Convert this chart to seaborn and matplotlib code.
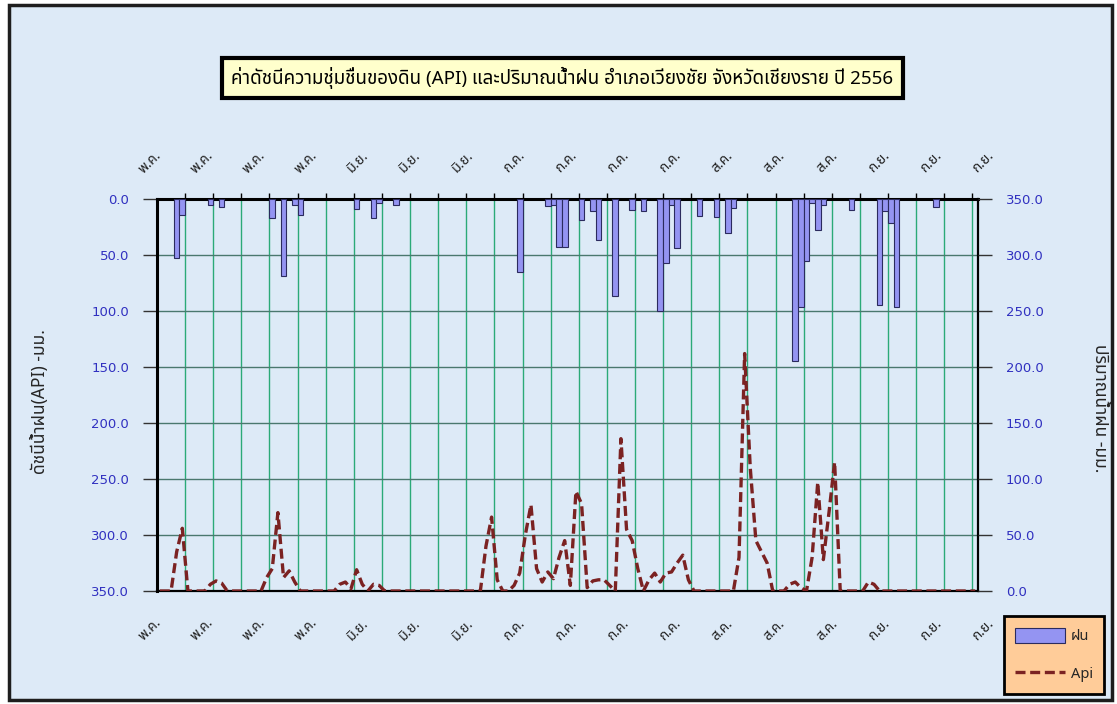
import numpy as np
import pandas as pd
import matplotlib
matplotlib.use("Agg")
import matplotlib.pyplot as plt
import matplotlib.transforms as mtransforms
from matplotlib.patches import Rectangle
from matplotlib import font_manager as fm
import seaborn as sns

# ---------------- data ----------------
rain_days = [3, 4, 9, 11, 20, 22, 24, 25, 35, 38, 39, 42, 64, 69, 70, 71, 72, 75, 77, 78,
             81, 84, 86, 89, 90, 91, 92, 96, 99, 101, 102, 113, 114, 115, 116, 117, 118,
             123, 128, 129, 130, 131, 138]
rain_mm = [53, 14, 5, 7, 17, 69, 5, 14, 9, 17, 4, 5, 65, 6, 5, 43, 43, 19, 11, 37,
           87, 10, 11, 100, 57, 5, 44, 15, 16, 30, 8, 145, 96, 55, 4, 28, 5,
           10, 95, 11, 21, 96, 7]

api_values = [
    0, 0, 0, 35, 56, 0, 0, 0, 0, 6,
    9, 7, 0, 0, 0, 0, 0, 0, 0, 12,
    20, 70, 12, 18, 8, 0, 0, 0, 0, 0,
    0, 0, 6, 8, 2, 19, 6, 0, 6, 5,
    0, 0, 0, 0, 0, 0, 0, 0, 0, 0,
    0, 0, 0, 0, 0, 0, 0, 0, 40, 66,
    10, 0, 0, 5, 16, 50, 77, 20, 8, 17,
    11, 30, 45, 5, 89, 78, 3, 9, 10, 10,
    5, 0, 136, 55, 45, 20, 0, 10, 16, 8,
    16, 17, 25, 32, 10, 0, 0, 0, 0, 0,
    0, 0, 0, 30, 212, 110, 45, 35, 25, 0,
    0, 0, 6, 8, 3, 0, 30, 97, 28, 70,
    115, 0, 0, 0, 0, 0, 8, 6, 0, 0,
    0, 0, 0, 0, 0, 0, 0, 0, 0, 0,
    0, 0, 0, 0, 0, 0,
]

month_labels = ["พ.ค.", "พ.ค.", "พ.ค.", "พ.ค.", "มิ.ย.", "มิ.ย.", "มิ.ย.",
                "ก.ค.", "ก.ค.", "ก.ค.", "ก.ค.", "ส.ค.", "ส.ค.", "ส.ค.",
                "ก.ย.", "ก.ย.", "ก.ย."]
y_ticks = [0, 50, 100, 150, 200, 250, 300, 350]

title_text = "ค่าดัชนีความชุ่มชื่นของดิน (API) และปริมาณน้ำฝน อำเภอเวียงชัย จังหวัดเชียงราย ปี 2556"
left_label = "ดัชนีน้ำฝน(API) -มม."
right_label = "ปริมาณน้ำฝน -มม."
legend_labels = ["ฝน", "Api"]

# ---------------- fonts ----------------
def thai_fonts():
    found = []
    try:
        from fontTools.ttLib import TTFont
    except Exception:
        return found
    for f in fm.fontManager.ttflist:
        try:
            tt = TTFont(f.fname, fontNumber=0, lazy=True)
            cmap = tt.getBestCmap()
            if cmap and 0x0E01 in cmap and 0x0E48 in cmap:
                if f.name not in found:
                    found.append(f.name)
        except Exception:
            pass
    return found

sns.set_style("white")
tf = thai_fonts()
pref = ["Tahoma", "Noto Sans Thai", "Noto Sans Thai UI", "Loma", "Garuda", "Sarabun"]
thai = None
for p in pref:
    if p in tf:
        thai = p
        break
if thai is None and tf:
    thai = tf[0]
families = ([thai] if thai else []) + ["DejaVu Sans"]
plt.rcParams["font.family"] = families

W, H = 1117, 704
fig = plt.figure(figsize=(W / 100, H / 100), dpi=100, facecolor="white")
bg = Rectangle((9 / W, 1 - 700 / H), (1112 - 9) / W, (700 - 5) / H, transform=fig.transFigure,
               facecolor="#DDEAF7", edgecolor="#1e1e1e", lw=2.5, zorder=-5)
fig.patches.append(bg)

ax = fig.add_axes([157 / W, 1 - 591 / H, 821 / W, 392 / H])
ax.set_facecolor("none")

df_rain = pd.DataFrame({"day": rain_days, "rain": rain_mm})
sns.barplot(data=df_rain, x="day", y="rain", native_scale=True, width=1, color="#9494F2",
            saturation=1, edgecolor="#2B2B5E", linewidth=0.8, errorbar=None, ax=ax, zorder=3)
n_days = len(api_values)
ax.set_xlim(-0.5, n_days - 0.5)
ax.set_ylim(350, 0)
ax.set_xticks(np.arange(4.5, n_days - 0.5, 5))
ax.set_yticks(y_ticks)
ax.set_yticklabels([f"{v:.1f}" for v in y_ticks], color="#3030C0", fontsize=9.5,
                   family="DejaVu Sans")
ax.grid(axis="x", color="#2BAA78", lw=1)
ax.grid(axis="y", color="#4A786E", lw=1)
ax.set_axisbelow(True)
ax.tick_params(axis="x", top=True, bottom=False, labeltop=False, labelbottom=False,
               direction="out", length=4, width=1, color="black")
ax.tick_params(axis="y", direction="out", length=10, width=1, color="#333333", pad=10)
ax.set_xlabel("")
ax.set_ylabel("")
for s, lw in [("top", 2.2), ("left", 2.2), ("bottom", 1.6), ("right", 1.6)]:
    ax.spines[s].set_color("black")
    ax.spines[s].set_linewidth(lw)

ax2 = ax.twinx()
df_api = pd.DataFrame({"day": np.arange(n_days), "api": api_values})
sns.lineplot(data=df_api, x="day", y="api", ax=ax2, color="#7B2222", lw=2.4,
             linestyle=(0, (3, 1.4)), errorbar=None)
ax2.set_xlim(-0.5, n_days - 0.5)
ax2.set_ylim(0, 350)
ax2.set_yticks(y_ticks)
ax2.set_yticklabels([f"{v:.1f}" for v in y_ticks], color="#3030C0", fontsize=9.5,
                    family="DejaVu Sans")
ax2.tick_params(axis="y", direction="out", length=10, width=1, color="#333333", pad=10)
ax2.set_ylabel("")
ax2.set_xlabel("")
for s in ax2.spines.values():
    s.set_visible(False)

# month labels top & bottom
trans = mtransforms.blended_transform_factory(ax.transData, ax.transAxes)
label_pos = np.linspace(-1.75, 146.4, len(month_labels))
for xp, lab in zip(label_pos, month_labels):
    ax.text(xp, 1.094, lab, transform=trans, rotation=45, ha="center", va="center",
            fontsize=10, color="#222222", clip_on=False)
    ax.text(xp, -0.099, lab, transform=trans, rotation=45, ha="center", va="center",
            fontsize=10, color="#222222", clip_on=False)

# title box
tb = Rectangle((222 / W, 1 - 98 / H), (903 - 222) / W, 40 / H, transform=fig.transFigure,
               facecolor="#FFFFCC", edgecolor="black", lw=3, zorder=2)
fig.patches.append(tb)
fig.text(562.5 / W, 1 - 78 / H, title_text, ha="center", va="center", fontsize=13.5,
         color="black", zorder=3)

# axis labels
fig.text(40 / W, 1 - 402 / H, left_label, rotation=90, ha="center", va="center", fontsize=12.5)
fig.text(1100 / W, 1 - 408 / H, right_label, rotation=270, ha="center", va="center", fontsize=12.5)

# legend
handles = [ax.patches[0], ax2.lines[0]]
leg = fig.legend(handles, legend_labels, loc="center",
                 bbox_to_anchor=((996 + 1112) / 2 / W, 1 - 655 / H),
                 frameon=True, fancybox=False, edgecolor="black", facecolor="#FFCC99",
                 framealpha=1, fontsize=10.5, handlelength=3.4, handleheight=1.2,
                 labelspacing=1.5, borderpad=0.8, handletextpad=0.4, borderaxespad=0)
leg.get_frame().set_linewidth(2)

fig.savefig("out.png", dpi=100, facecolor=fig.get_facecolor())
